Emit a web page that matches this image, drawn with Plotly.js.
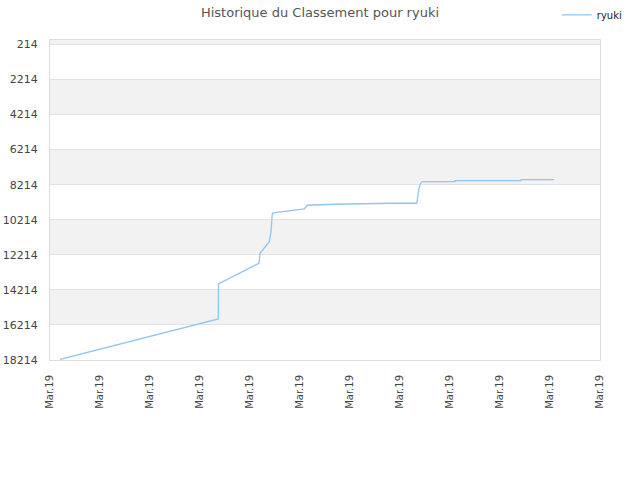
<!DOCTYPE html>
<html>
<head>
<meta charset="utf-8">
<script src="https://cdn.plot.ly/plotly-3.0.1.min.js"></script>
<style>
  html, body { margin: 0; padding: 0; background: #fff; }
  #plotly { width: 640px; height: 480px; }
</style>
</head>
<body>
<div id="plotly"></div>
<script>
// position along the date axis (in tick steps) and rank
var dayPos = [0.2, 3.366, 3.37, 4.18, 4.2, 4.386, 4.42, 4.446, 4.534, 4.754, 4.986,
  5.086, 5.146, 5.66, 5.7, 6.8, 7.334, 7.346, 7.38, 7.414, 7.446, 8.1, 8.1, 9.42, 9.42, 10.086];
var rank = [18180, 15874, 13878, 12697, 12126, 11464, 10894, 9844, 9787, 9713, 9655,
  9598, 9387, 9370, 9330, 9273, 9273, 9085, 8417, 8131, 8040, 8040, 7983, 7983, 7927, 7927];

var xTicks = [0, 1, 2, 3, 4, 5, 6, 7, 8, 9, 10, 11];
var xLabels = ['Mar.19', 'Mar.19', 'Mar.19', 'Mar.19', 'Mar.19', 'Mar.19',
  'Mar.19', 'Mar.19', 'Mar.19', 'Mar.19', 'Mar.19', 'Mar.19'];
var yTicks = [214, 2214, 4214, 6214, 8214, 10214, 12214, 14214, 16214, 18214];

// grey bands every other step
var shapes = [];
for (var i = -1; i < yTicks.length - 1; i += 2) {
  var lo = i < 0 ? -1786 : yTicks[i];
  shapes.push({
    type: 'rect', xref: 'paper', yref: 'y', layer: 'below',
    x0: 0, x1: 1, y0: lo, y1: lo + 2000,
    fillcolor: '#f2f2f2', line: {width: 0}
  });
}

var trace1 = {
  x: dayPos,
  y: rank,
  mode: 'lines',
  name: 'ryuki',
  line: {color: '#90c4f2', width: 1.3},
  hoverinfo: 'y'
};

var layout = {
  width: 640,
  height: 480,
  autosize: false,
  font: {family: 'DejaVu Sans, sans-serif', size: 11, color: '#444'},
  paper_bgcolor: '#fff',
  plot_bgcolor: '#fff',
  title: {
    text: 'Historique du Classement pour ryuki',
    font: {size: 13, color: '#555'},
    x: 0.5, xanchor: 'center', y: 0.975, yanchor: 'middle'
  },
  margin: {l: 50, r: 40, t: 40, b: 120, autoexpand: false},
  showlegend: true,
  legend: {
    xref: 'container', yref: 'container',
    x: 0.87, xanchor: 'left', y: 0.969, yanchor: 'middle',
    font: {size: 10, color: '#222'},
    bgcolor: 'rgba(0,0,0,0)', itemwidth: 30
  },
  shapes: shapes,
  xaxis: {
    range: [0, 11],
    tickvals: xTicks,
    ticktext: xLabels,
    tickangle: -90,
    showgrid: false,
    zeroline: false,
    showline: true, mirror: true, linecolor: '#ddd', linewidth: 1,
    ticks: '', ticklen: 0,
    ticklabelstandoff: 10,
    tickfont: {size: 10, color: '#444'},
    fixedrange: true
  },
  yaxis: {
    range: [18214, -40],
    tickvals: yTicks,
    ticktext: yTicks.map(String),
    showgrid: true, gridcolor: '#e2e2e2', gridwidth: 1,
    zeroline: false,
    showline: true, mirror: true, linecolor: '#ddd', linewidth: 1,
    ticks: '', ticklen: 0,
    ticklabelstandoff: 9,
    tickfont: {size: 11, color: '#444'},
    layer: 'below traces',
    fixedrange: true
  }
};

Plotly.newPlot('plotly', [trace1], layout, {displayModeBar: false, staticPlot: true});
</script>
</body>
</html>
